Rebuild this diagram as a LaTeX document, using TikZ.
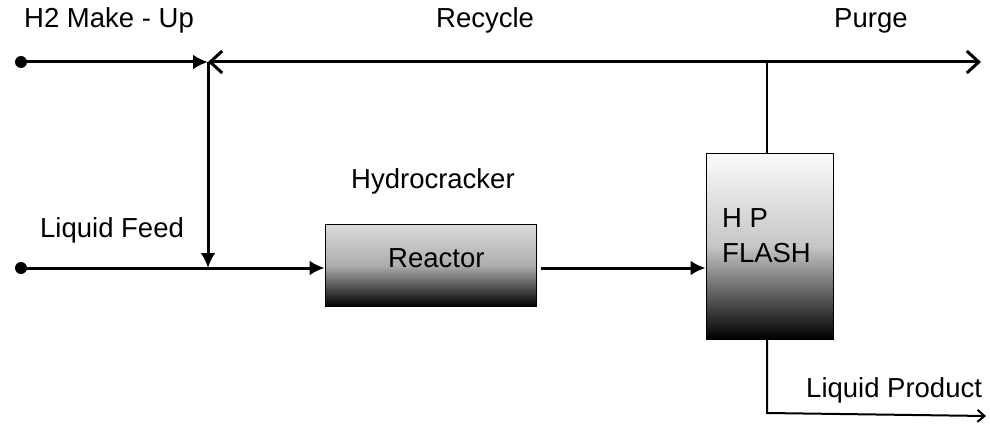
\documentclass[tikz,border=0pt]{standalone}
\usepackage{fontspec}
\setmainfont{Liberation Sans}
\usetikzlibrary{arrows.meta}
\begin{document}
\begin{tikzpicture}[x=1pt,y=-1pt,
  every node/.style={font=\fontsize{27.5}{35}\selectfont},
  pipe/.style={line width=3pt},
  thinpipe/.style={line width=2pt},
  solid tip/.style={-{Latex[length=15pt,width=15pt]}},
  open tip/.style={-{Straight Barb[length=12pt,width=22pt,line width=3pt]}},
  small tip/.style={-{Straight Barb[length=7pt,width=12pt,line width=2pt]}},
  unit/.style={draw=black, line width=1pt, inner sep=0pt, shading=axis},
  reactorbox/.style={unit, minimum width=211pt, minimum height=82pt,
    top color=gray!28, bottom color=black, middle color=gray!65},
  flashbox/.style={unit, minimum width=127pt, minimum height=186pt,
    top color=gray!3, bottom color=black, middle color=gray!45},
  lbl/.style={anchor=base west, inner sep=0pt},
  feeddot/.style={circle, fill=black, inner sep=0pt, minimum size=12pt}
]
\useasboundingbox (0,0) rectangle (990,425);

% process units
\node[reactorbox] (reactor) at (430.5,265.5) {};
\node[flashbox] (flash) at (769.5,246) {};
\node[lbl] (reactortxt) at (388,267) {Reactor};
\node[lbl] (flashtxt) at (722,227) {H P};
\node[lbl] (flashtxt2) at (722,262) {FLASH};

% stream end points and junctions
\node[feeddot] (h2in) at (21,62) {};
\node[feeddot] (feedin) at (21,268) {};
\coordinate (mix) at (208,62);
\coordinate (feedmix) at (208,268);
\coordinate (vaptop) at (767,62);
\coordinate (purgeend) at (981,62);
\coordinate (flashtop) at (767,153);
\coordinate (flashbot) at (767,339);
\coordinate (liqbend) at (767,413);
\coordinate (liqend) at (986,416);

% stream labels
\node[lbl] (lh2) at (24,28) {H2 Make - Up};
\node[lbl] (lrec) at (436,28) {Recycle};
\node[lbl] (lpurge) at (834,28) {Purge};
\node[lbl] (lhc) at (351,188) {Hydrocracker};
\node[lbl] (lfeed) at (40,237) {Liquid Feed};
\node[lbl] (lprod) at (806,397) {Liquid Product};

% hydrogen make-up and recycle header
\draw[pipe, solid tip] (h2in.center) -- (mix);
\draw[pipe, open tip] (vaptop) -- (mix);
\draw[pipe, open tip] (vaptop) -- (purgeend);
\draw[thinpipe] (flashtop) -- (vaptop);

% gas to the feed line
\draw[pipe, solid tip] (mix) -- (feedmix);

% liquid feed to reactor and on to the flash drum
\draw[pipe, solid tip] (feedin.center) -- (feedin -| reactor.west);
\draw[pipe, solid tip] ([xshift=4pt]feedin -| reactor.east) -- (feedin -| flash.west);

% liquid product
\draw[thinpipe, small tip] (flashbot) -- (liqbend) -- (liqend);
\end{tikzpicture}
\end{document}
